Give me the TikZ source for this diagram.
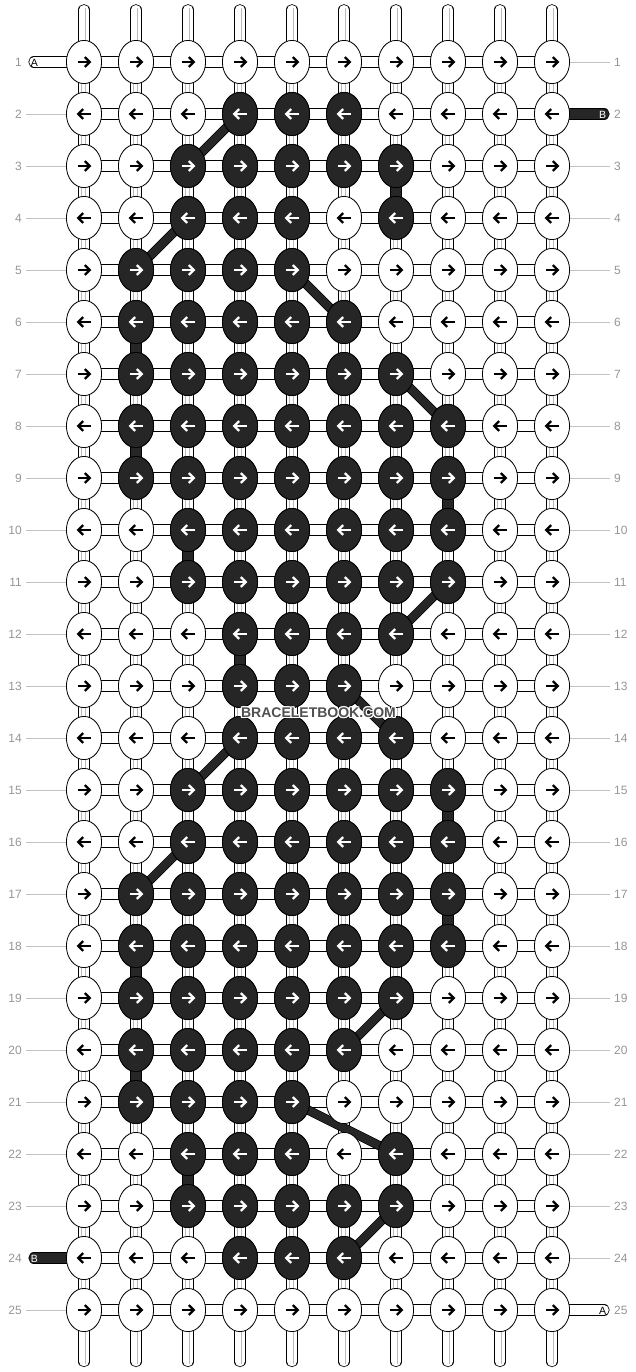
\documentclass[tikz,border=0pt]{standalone}
\usepackage{fontspec}
\setmainfont{Liberation Sans}
\usetikzlibrary{calc}
\definecolor{knotdark}{RGB}{38,38,38}
\definecolor{lblgray}{RGB}{150,150,150}
\definecolor{linegray}{RGB}{195,195,195}
\definecolor{strgray}{RGB}{185,185,185}
\definecolor{wmgray}{RGB}{80,80,80}
\newcommand\mkKnot[4]{%
  \draw[line width=0.8pt, fill=#2] (#1) ellipse [x radius=17.6pt, y radius=21.6pt];
  \begin{scope}[shift={(#1)}, xscale=#4]
    \draw[#3, line width=2.3pt] (-6.5,0) -- (5.2,0);
    \draw[#3, line width=2.3pt, miter limit=10] (0.8,-4.9) -- (5.7,0) -- (0.8,4.9);
  \end{scope}}
\begin{document}
\begin{tikzpicture}[x=1pt,y=-1pt,
  lbl/.style={text=lblgray, font=\fontsize{12}{14}\selectfont, inner sep=0pt},
  lblline/.style={draw=linegray, line width=0.8pt},
  warp/.style={draw=black, line width=0.8pt, double=white, double distance=9.6pt, line cap=round},
  weft/.style={draw=black, line width=0.8pt, double=white, double distance=9.6pt},
  tailwhite/.style={draw=black, line width=0.8pt, double=white, double distance=9.6pt, line cap=round},
  taildark/.style={draw=black, line width=0.8pt, double=knotdark, double distance=9.6pt, line cap=round},
  darkvert/.style={draw=black, line width=0.8pt, double=knotdark, double distance=9.6pt},
  darkdiag/.style={draw=black, line width=0.6pt, double=knotdark, double distance=8pt},
  tailtext/.style={font=\fontsize{10.5}{12}\selectfont, inner sep=0pt},
  wmtext/.style={font=\fontsize{14}{16}\selectfont\bfseries, inner sep=0pt}]
\useasboundingbox (0,0) rectangle (636,1372);
\fill[white] (0,0) rectangle (636,1372);
% coordinates
\foreach \r in {1,...,25} {
  \foreach \c in {1,...,10} {
    \coordinate (p-\r-\c) at ({84+52*(\c-1)},{62+52*(\r-1)});
  }
  \coordinate (lL-\r) at (26,{62+52*(\r-1)});
  \coordinate (lR-\r) at (610,{62+52*(\r-1)});
}
\foreach \c in {1,...,10} {
  \coordinate (t-\c) at ({84+52*(\c-1)},9.8);
  \coordinate (b-\c) at ({84+52*(\c-1)},1361.5);
}
% row labels and guide lines
\foreach \r in {1,...,25} {
  \node[lbl, anchor=east] (nl-\r) at ($(lL-\r)+(-4,0.5)$) {\r};
  \node[lbl, anchor=west] (nr-\r) at ($(lR-\r)+(4,0.5)$) {\r};
}
\foreach \r in {2,...,23,25} { \draw[lblline] (lL-\r) -- (p-\r-1); }
\foreach \r in {1,3,4,...,24} { \draw[lblline] (p-\r-10) -- (lR-\r); }
% warp strings
\foreach \c in {1,...,10} {
  \draw[warp] (t-\c) -- (b-\c);
  \draw[strgray, line width=0.7pt] ($(t-\c)+(1,-2)$) -- ($(b-\c)+(1,2)$);
  \draw[strgray, line width=0.7pt] ($(p-1-\c)+(-3,0)$) -- ($(p-25-\c)+(-3,0)$);
}
% weft strings
\foreach \r in {1,...,25} { \draw[weft] (p-\r-1) -- (p-\r-10); }
% tails
\coordinate (tA1) at (34,62);
\coordinate (tB2) at (604,114);
\coordinate (tB24) at (34,1258);
\coordinate (tA25) at (604,1310);
\draw[tailwhite] (tA1) -- (p-1-1);
\draw[taildark] (p-2-10) -- (tB2);
\draw[taildark] (tB24) -- (p-24-1);
\draw[tailwhite] (p-25-10) -- (tA25);
\node[tailtext, text=black] (nA1) at ($(tA1)+(0.5,0.5)$) {A};
\node[tailtext, text=white] (nB2) at ($(tB2)+(-1.5,0.5)$) {B};
\node[tailtext, text=white] (nB24) at ($(tB24)+(0.5,0.5)$) {B};
\node[tailtext, text=black] (nA25) at ($(tA25)+(-1.5,0.5)$) {A};
% dark connectors
\foreach \a/\b in {3-7/4-7, 6-2/7-2, 8-2/9-2, 9-8/10-8, 10-3/11-3, 12-4/13-4, 15-8/16-8, 17-8/18-8, 18-2/19-2, 20-2/21-2, 22-3/23-3}
  { \draw[darkvert] (p-\a) -- (p-\b); }
\foreach \a/\b in {2-4/3-3, 4-3/5-2, 5-5/6-6, 7-7/8-8, 11-8/12-7, 13-6/14-7, 14-4/15-3, 16-3/17-2, 19-7/20-6, 21-5/22-7, 23-7/24-6}
  { \draw[darkdiag] (p-\a) -- (p-\b); }
% white knots
\foreach \r in {1,...,25} {
  \pgfmathsetmacro\dir{ifthenelse(mod(\r,2)==1,1,-1)}
  \foreach \c in {1,...,10} { \mkKnot{p-\r-\c}{white}{black}{\dir} }
}
% dark knots
\foreach \r/\cl in {2/{4,5,6},3/{3,4,5,6,7},4/{3,4,5,7},5/{2,3,4,5},6/{2,3,4,5,6},7/{2,...,7},8/{2,...,8},9/{2,...,8},10/{3,...,8},11/{3,...,8},12/{4,...,7},13/{4,5,6},14/{4,5,6,7},15/{3,...,8},16/{3,...,8},17/{2,...,8},18/{2,...,8},19/{2,...,7},20/{2,...,6},21/{2,...,5},22/{3,4,5,7},23/{3,...,7},24/{4,5,6}} {
  \pgfmathsetmacro\dir{ifthenelse(mod(\r,2)==1,1,-1)}
  \foreach \c in \cl { \mkKnot{p-\r-\c}{knotdark}{white}{\dir} }
}
% watermark
\coordinate (wm) at (318.5,712.5);
\foreach \dx/\dy [count=\i] in {-1.2/0,1.2/0,0/-1.2,0/1.2,-0.9/-0.9,0.9/-0.9,-0.9/0.9,0.9/0.9} {
  \node[wmtext, text=white] (wmh\i) at ($(wm)+(\dx,\dy)$) {BRACELETBOOK.COM};
}
\node[wmtext, text=wmgray] (wmt) at (wm) {BRACELETBOOK.COM};
\end{tikzpicture}
\end{document}
